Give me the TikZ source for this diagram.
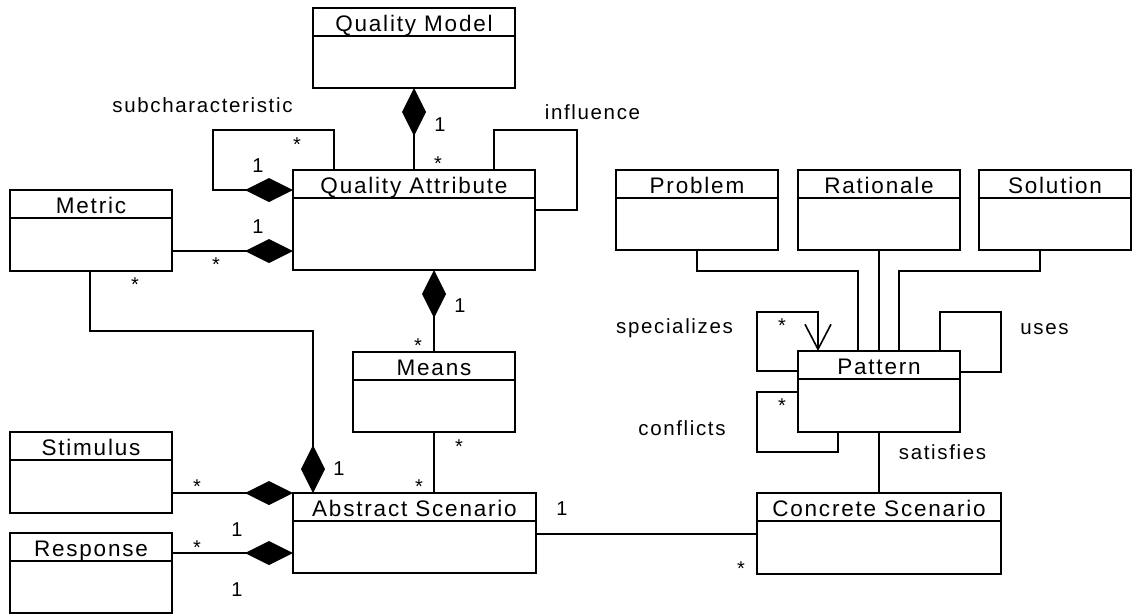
\documentclass[tikz,border=0pt]{standalone}
\usepackage{fontspec}
\setmainfont{Liberation Sans}
\newfontfamily\classfont[LetterSpace=8]{Liberation Sans}
\newfontfamily\rolefont[LetterSpace=8]{Liberation Sans}
\usetikzlibrary{arrows.meta,calc}

\tikzset{
  uml/.style={line width=2pt},
  classbox/.style={draw, line width=2pt, inner sep=0pt, outer sep=0pt},
  classname/.style={font=\classfont\fontsize{22.5}{23}\selectfont, anchor=base, inner sep=0pt},
  mult/.style={font=\fontsize{20}{20}\selectfont, anchor=base, inner sep=0pt},
  rolename/.style={font=\rolefont\fontsize{20.5}{21}\selectfont, anchor=base, inner sep=0pt},
  comp/.style={uml, {Diamond[length=48pt,width=24pt]}-},
  spec/.style={uml, -{Straight Barb[length=25pt,width=26pt,line width=1.6pt]}}
}

% class box: name, left, top, right, bottom, title
\newcommand\umlclass[6]{%
  \node[classbox, minimum width={#4-#2}, minimum height={#5-#3}] (#1) at ({(#2+#4)/2},{(#3+#5)/2}) {};
  \draw[uml] ($(#1.north west)+(0,28)$) -- ($(#1.north east)+(0,28)$);
  \node[classname] (#1-name) at ($(#1.north)+(0,23)$) {#6};
}

\begin{document}
\begin{tikzpicture}[x=1pt,y=-1pt]
\useasboundingbox (0,0) rectangle (1136,614);

% classes
\umlclass{QM}{313}{8}{515}{88}{Quality Model}
\umlclass{QA}{293}{170}{535}{270}{Quality Attribute}
\umlclass{Metric}{10}{190}{172}{271}{Metric}
\umlclass{Means}{353}{352}{515}{432}{Means}
\umlclass{Stim}{10}{432}{172}{513}{Stimulus}
\umlclass{Resp}{10}{533}{172}{613}{Response}
\umlclass{AS}{293}{493}{536}{573}{Abstract Scenario}
\umlclass{Problem}{616}{170}{778}{250}{Problem}
\umlclass{Rationale}{798}{170}{960}{250}{Rationale}
\umlclass{Solution}{979}{170}{1131}{250}{Solution}
\umlclass{Pattern}{798}{351}{960}{432}{Pattern}
\umlclass{CS}{757}{493}{1001}{574}{Concrete Scenario}

% helper points on box borders
\path ($(QA.north west)+(0,81)$) coordinate (mq);
\path ($(AS.north west)+(0,60)$) coordinate (ra);
\path ($(AS.north east)+(0,41)$) coordinate (ac);

% quality side
\draw[comp] (QM.south) -- (QM.south |- QA.north);
\draw[comp] ($(QA.north west)+(0,20)$) -- ++(-80,0) |- ($(QA.north west)+(41,-40)$) -- ($(QA.north west)+(41,0)$);
\draw[uml] ($(QA.north west)+(201,0)$) -- ++(0,-40) -| ($(QA.north east)+(42,40)$) -- ($(QA.north east)+(0,40)$);
\draw[comp] (mq) -- (mq -| Metric.east);
\draw[comp] ($(AS.north west)+(20,0)$) -- ++(0,-162) -| ($(Metric.south west)+(80,0)$);
\draw[comp] (Means.north |- QA.south) -- (Means.north);
\draw[uml] (Means.south) -- (Means.south |- AS.north);
\draw[comp] (AS.north west) -- (AS.north west -| Stim.east);
\draw[comp] (ra) -- (ra -| Resp.east);
\draw[uml] (ac) -- (ac -| CS.west);

% pattern side
\draw[uml] (Problem.south) -- ++(0,21) -| ($(Pattern.north west)+(60,0)$);
\draw[uml] (Rationale.south) -- (Pattern.north);
\draw[uml] ($(Solution.south west)+(61,0)$) -- ++(0,21) -| ($(Pattern.north west)+(101,0)$);
\draw[spec] ($(Pattern.north west)+(0,20)$) -- ++(-41,0) |- ($(Pattern.north west)+(20,-39)$) -- ($(Pattern.north west)+(20,0)$);
\draw[uml] ($(Pattern.north west)+(0,41)$) -- ++(-41,0) |- ($(Pattern.south west)+(40,20)$) -- ($(Pattern.south west)+(40,0)$);
\draw[uml] ($(Pattern.north east)+(-20,0)$) -- ++(0,-39) -| ($(Pattern.north east)+(41,21)$) -- ($(Pattern.north east)+(0,21)$);
\draw[uml] (Pattern.south) -- (CS.north);

% association names
\node[rolename] (l-sub) at (202.5,112) {subcharacteristic};
\node[rolename] (l-inf) at (592.5,119) {influence};
\node[rolename] (l-spec) at (674.5,333) {specializes};
\node[rolename] (l-uses) at (1044.5,334) {uses};
\node[rolename] (l-conf) at (682,435) {conflicts};
\node[rolename] (l-sat) at (942.5,459) {satisfies};

% multiplicities
\node[mult] (m1) at (440,131) {1};
\node[mult] (m2) at (438,170) {*};
\node[mult] (m3) at (297,151) {*};
\node[mult] (m4) at (258,172) {1};
\node[mult] (m5) at (258,233) {1};
\node[mult] (m6) at (216,271) {*};
\node[mult] (m7) at (135,291) {*};
\node[mult] (m8) at (460,312) {1};
\node[mult] (m9) at (418,352) {*};
\node[mult] (m10) at (459,453) {*};
\node[mult] (m11) at (419,493) {*};
\node[mult] (m12) at (339,475) {1};
\node[mult] (m13) at (197,493) {*};
\node[mult] (m14) at (237,536) {1};
\node[mult] (m15) at (197,554) {*};
\node[mult] (m16) at (237,596) {1};
\node[mult] (m17) at (562,515) {1};
\node[mult] (m18) at (741,575) {*};
\node[mult] (m19) at (782,332) {*};
\node[mult] (m20) at (782,412) {*};
\end{tikzpicture}
\end{document}
